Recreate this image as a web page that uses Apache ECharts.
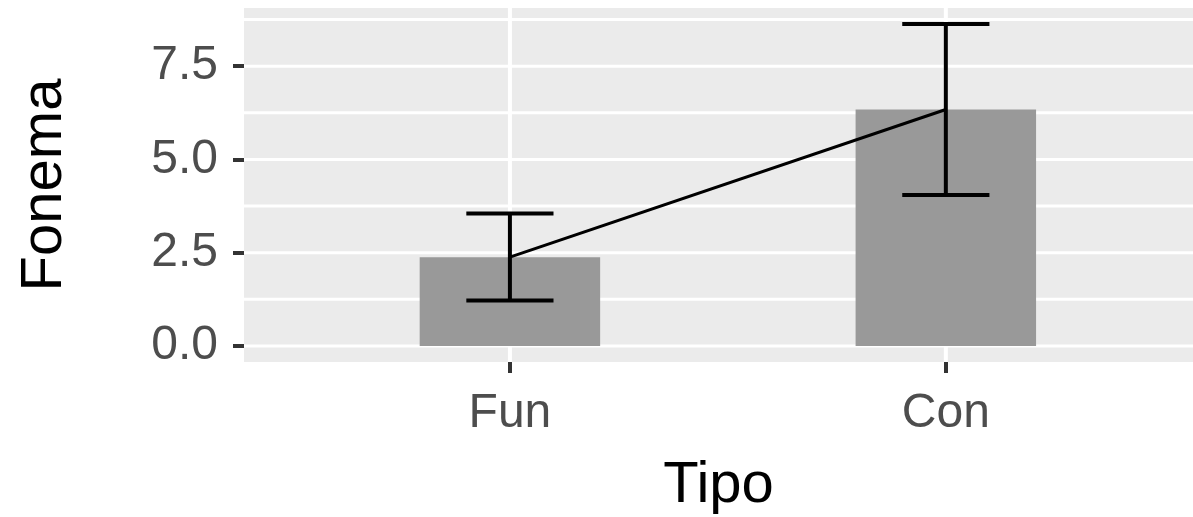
<!DOCTYPE html>
<html>
<head>
<meta charset="utf-8">
<script src="https://cdn.jsdelivr.net/npm/echarts@6/dist/echarts.min.js"></script>
<style>
  html, body { margin: 0; padding: 0; background: #fff; }
  #chart { width: 1193px; height: 517px; }
</style>
</head>
<body>
<div id="chart"></div>
<script>
// values
const categories = ['Fun', 'Con'];
const means = [2.38, 6.34];
const lowers = [1.22, 4.05];
const uppers = [3.55, 8.63];
const yTicks = [0, 2.5, 5, 7.5];
const yMinorTicks = [1.25, 3.75, 6.25, 8.75];

// ggplot puts discrete categories at 1, 2, ...
const positions = categories.map((c, i) => i + 1);

const BAR_HALF = 0.207;
const CAP_HALF = 0.1;

function renderHGrid(params, api) {
  const cs = params.coordSys;
  const y = api.coord([positions[0], api.value(1)])[1];
  return {
    type: 'line',
    shape: { x1: cs.x, y1: y, x2: cs.x + cs.width, y2: y },
    style: { stroke: '#ffffff', lineWidth: api.value(2) }
  };
}

function renderVGrid(params, api) {
  const cs = params.coordSys;
  const x = api.coord([api.value(0), 0])[0];
  return {
    type: 'line',
    shape: { x1: x, y1: cs.y, x2: x, y2: cs.y + cs.height },
    style: { stroke: '#ffffff', lineWidth: 4 }
  };
}

function renderBar(params, api) {
  const p = api.value(0);
  const tl = api.coord([p - BAR_HALF, api.value(1)]);
  const br = api.coord([p + BAR_HALF, 0]);
  return {
    type: 'rect',
    shape: { x: tl[0], y: tl[1], width: br[0] - tl[0], height: br[1] - tl[1] },
    style: { fill: '#999999' }
  };
}

function renderErrorBar(params, api) {
  const p = api.value(0);
  const lo = api.coord([p, api.value(1)]);
  const hi = api.coord([p, api.value(2)]);
  const capL = api.coord([p - CAP_HALF, 0])[0];
  const capR = api.coord([p + CAP_HALF, 0])[0];
  const st = { stroke: '#000000', lineWidth: 4 };
  return {
    type: 'group',
    children: [
      { type: 'line', shape: { x1: lo[0], y1: lo[1], x2: hi[0], y2: hi[1] }, style: st },
      { type: 'line', shape: { x1: capL, y1: hi[1], x2: capR, y2: hi[1] }, style: st },
      { type: 'line', shape: { x1: capL, y1: lo[1], x2: capR, y2: lo[1] }, style: st }
    ]
  };
}

const chart = echarts.init(document.getElementById('chart'), null, { renderer: 'canvas' });

const hGridData = yTicks.map(v => [1, v, 3]).concat(yMinorTicks.map(v => [1, v, 3]));

chart.setOption({
  animation: false,
  backgroundColor: '#ffffff',
  textStyle: { fontFamily: 'Liberation Sans, Arial, sans-serif' },
  grid: {
    left: 244, right: 0, top: 8, bottom: 155,
    outerBoundsMode: 'none',
    show: true, backgroundColor: '#EBEBEB', borderWidth: 0
  },
  xAxis: {
    type: 'value',
    min: 0.39,
    max: 2.567,
    name: 'Tipo',
    nameLocation: 'middle',
    nameGap: 95,
    nameTextStyle: { fontSize: 58, color: '#000000' },
    axisLine: { show: false, onZero: false },
    splitLine: { show: false },
    axisTick: {
      show: true, length: 11, customValues: positions,
      lineStyle: { color: '#333333', width: 4 }
    },
    axisLabel: {
      customValues: positions,
      formatter: v => categories[Math.round(v) - 1],
      fontSize: 48, color: '#4D4D4D', margin: 28
    }
  },
  yAxis: {
    type: 'value',
    min: -0.43,
    max: 9.06,
    name: 'Fonema',
    nameLocation: 'middle',
    nameGap: 170,
    nameTextStyle: { fontSize: 58, color: '#000000' },
    axisLine: { show: false, onZero: false },
    splitLine: { show: false },
    axisTick: {
      show: true, length: 11, customValues: yTicks,
      lineStyle: { color: '#333333', width: 4 }
    },
    axisLabel: {
      customValues: yTicks,
      formatter: v => v.toFixed(1),
      fontSize: 48, color: '#4D4D4D', margin: 26
    }
  },
  series: [
    {
      type: 'custom', name: 'hgrid', silent: true, z: 1,
      renderItem: renderHGrid,
      encode: { x: 0, y: 1 },
      data: hGridData
    },
    {
      type: 'custom', name: 'vgrid', silent: true, z: 1,
      renderItem: renderVGrid,
      encode: { x: 0, y: 1 },
      data: positions.map(p => [p, 0])
    },
    {
      type: 'custom', name: 'bars', z: 2,
      renderItem: renderBar,
      encode: { x: 0, y: 1 },
      data: positions.map((p, i) => [p, means[i]])
    },
    {
      type: 'custom', name: 'errors', z: 3,
      renderItem: renderErrorBar,
      encode: { x: 0, y: [1, 2] },
      data: positions.map((p, i) => [p, lowers[i], uppers[i]])
    },
    {
      type: 'line', name: 'mean', z: 4,
      showSymbol: false,
      lineStyle: { color: '#000000', width: 3 },
      data: positions.map((p, i) => [p, means[i]])
    }
  ]
});
</script>
</body>
</html>
